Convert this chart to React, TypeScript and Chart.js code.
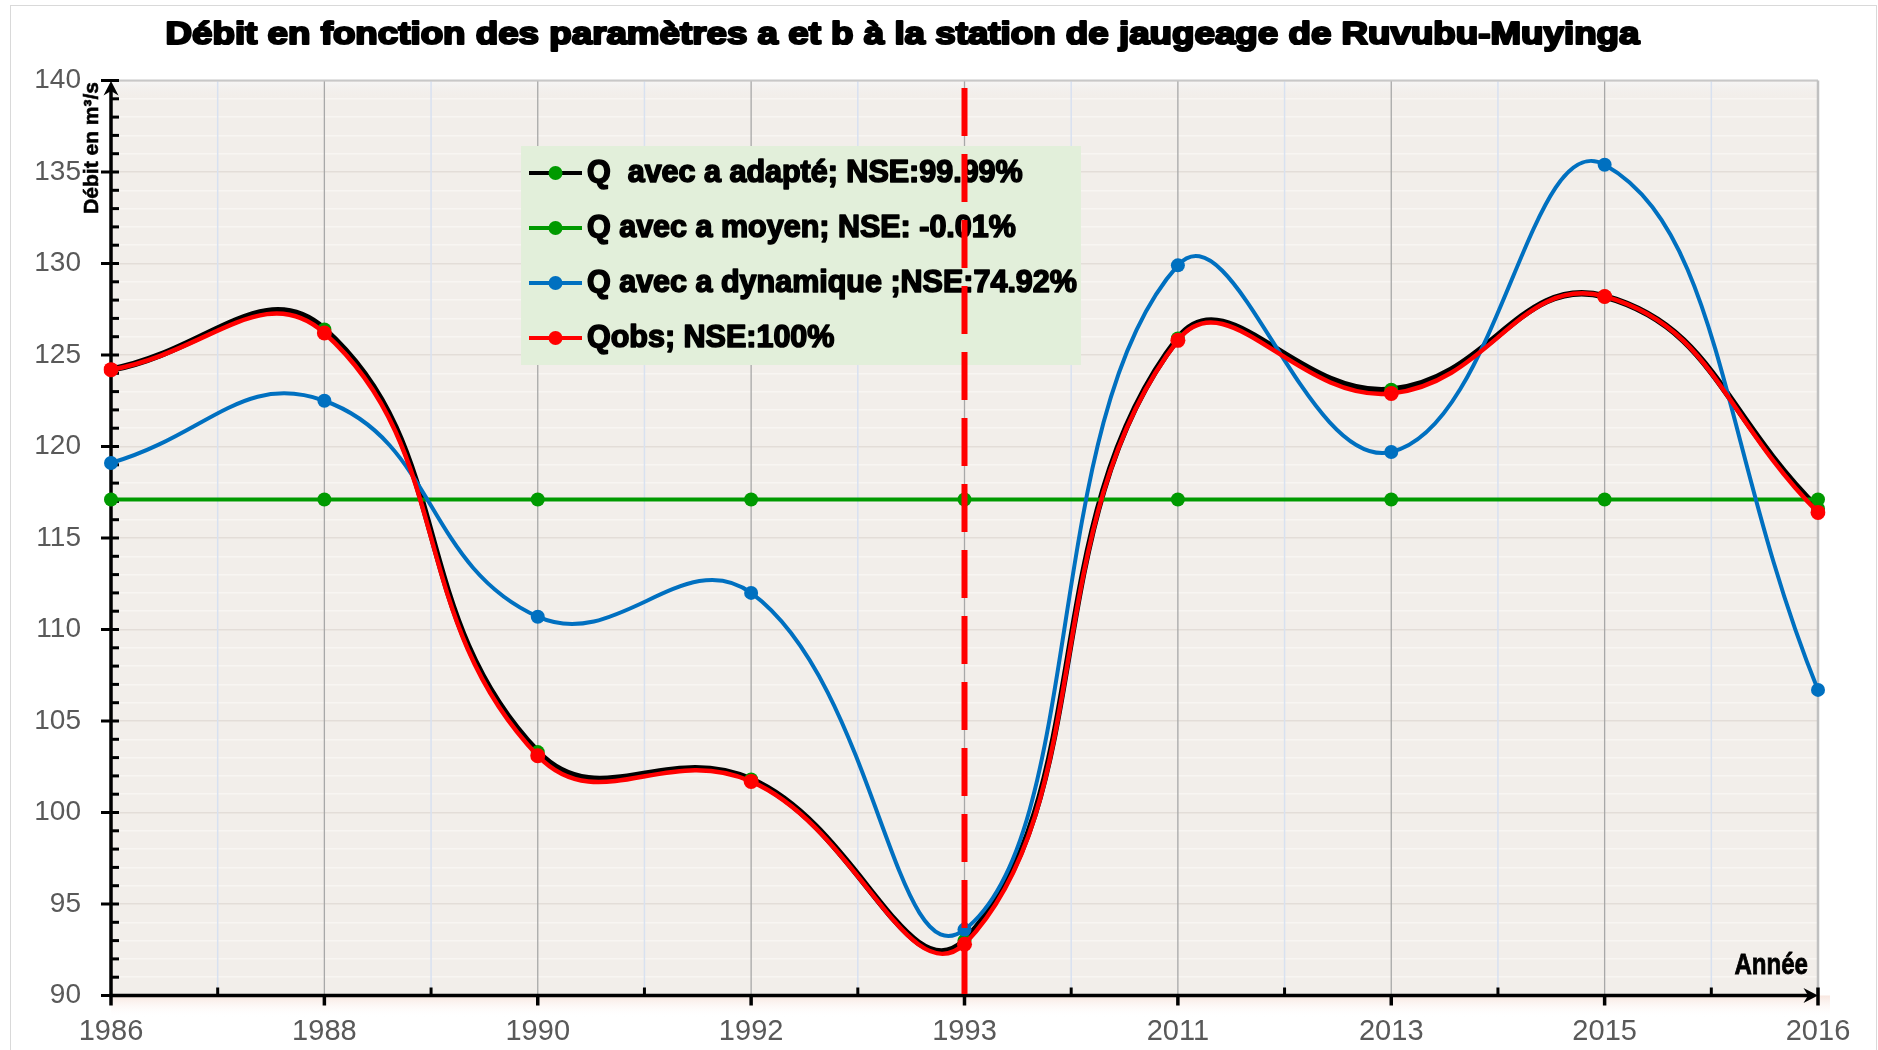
import React, { useEffect, useRef } from 'react';
import { Chart, registerables } from 'chart.js';

Chart.register(...registerables);

// ---------- data ----------
const categories = ['1986', '1988', '1990', '1992', '1993', '2011', '2013', '2015', '2016'];
const qAdapte = [124.2, 126.4, 103.3, 101.8, 93.0, 125.9, 123.1, 128.2, 116.6];
const qMoyen = [117.1, 117.1, 117.1, 117.1, 117.1, 117.1, 117.1, 117.1, 117.1];
const qDynamique = [119.1, 122.5, 110.7, 112.0, 93.6, 129.9, 119.7, 135.4, 106.7];
const qObs = [124.2, 126.2, 103.1, 101.7, 92.8, 125.8, 122.9, 128.2, 116.4];

const seriesLabels = [
  'Q  avec a adapté; NSE:99.99%',
  'Q avec a moyen; NSE: -0.01%',
  'Q avec a dynamique ;NSE:74.92%',
  'Qobs; NSE:100%',
];
const titleText = 'Débit en fonction des paramètres a et b à la station de jaugeage de Ruvubu-Muyinga';
const yAxisTitle = 'Débit en m³/s';
const xAxisTitle = 'Année';
const breakYear = '1993';
const yMin = 90;
const yMax = 140;
const yMajorStep = 5;

const GREEN = '#009A00';
const BLUE = '#0070C0';
const RED = '#FF0000';
const BLACK = '#000000';

const decor = {
  id: 'decor',
  beforeDraw(chart: any) {
    const { ctx, chartArea: a } = chart;
    ctx.save();
    ctx.fillStyle = '#ffffff';
    ctx.fillRect(0, 0, chart.width, chart.height);
    ctx.strokeStyle = '#D9D9D9';
    ctx.lineWidth = 1;
    ctx.strokeRect(10.5, 5.5, 1866, 1200);
    let g = ctx.createLinearGradient(0, a.bottom, 0, a.bottom + 22);
    g.addColorStop(0, 'rgba(245,220,210,0.7)');
    g.addColorStop(1, 'rgba(255,255,255,0)');
    ctx.fillStyle = g;
    ctx.fillRect(a.left, a.bottom, a.width + 12, 22);
    ctx.fillStyle = '#F2EEEA';
    ctx.fillRect(a.left, a.top, a.width, a.height);
    g = ctx.createLinearGradient(0, a.top, 0, a.top + 18);
    g.addColorStop(0, '#F6F6F6');
    g.addColorStop(1, 'rgba(242,238,234,0)');
    ctx.fillStyle = g;
    ctx.fillRect(a.left, a.top, a.width, 18);
    ctx.restore();
  },
  beforeDatasetsDraw(chart: any) {
    const { ctx, chartArea: a, scales } = chart;
    const xs = scales.x;
    const ys = scales.y;
    ctx.save();
    ctx.strokeStyle = '#D8E1F0';
    ctx.lineWidth = 1.5;
    for (let i = 0; i < categories.length - 1; i++) {
      const x = (xs.getPixelForValue(i) + xs.getPixelForValue(i + 1)) / 2;
      ctx.beginPath();
      ctx.moveTo(x, a.top);
      ctx.lineTo(x, a.bottom);
      ctx.stroke();
    }
    ctx.strokeStyle = '#A8A8A8';
    ctx.lineWidth = 1.3;
    for (let i = 1; i < categories.length - 1; i++) {
      const x = xs.getPixelForValue(i);
      ctx.beginPath();
      ctx.moveTo(x, a.top);
      ctx.lineTo(x, a.bottom);
      ctx.stroke();
    }
    ctx.strokeStyle = '#C8C8C8';
    ctx.lineWidth = 2;
    ctx.beginPath();
    ctx.moveTo(a.left, a.top);
    ctx.lineTo(a.right, a.top);
    ctx.stroke();
    ctx.strokeStyle = '#C0C0C0';
    ctx.lineWidth = 2.5;
    ctx.beginPath();
    ctx.moveTo(a.right, a.top);
    ctx.lineTo(a.right, a.bottom);
    ctx.stroke();

    ctx.strokeStyle = BLACK;
    ctx.fillStyle = BLACK;
    ctx.lineWidth = 3.5;
    ctx.lineCap = 'butt';
    ctx.beginPath();
    ctx.moveTo(a.left, a.bottom + 1.5);
    ctx.lineTo(a.left, a.top + 10);
    ctx.stroke();
    ctx.beginPath();
    ctx.moveTo(a.left - 1.5, a.bottom);
    ctx.lineTo(a.right - 10, a.bottom);
    ctx.stroke();
    ctx.beginPath();
    ctx.moveTo(a.left, a.top + 0.5);
    ctx.lineTo(a.left - 7.5, a.top + 15);
    ctx.lineTo(a.left, a.top + 10.5);
    ctx.lineTo(a.left + 7.5, a.top + 15);
    ctx.closePath();
    ctx.fill();
    ctx.beginPath();
    ctx.moveTo(a.right, a.bottom);
    ctx.lineTo(a.right - 14.5, a.bottom - 7.5);
    ctx.lineTo(a.right - 10, a.bottom);
    ctx.lineTo(a.right - 14.5, a.bottom + 7.5);
    ctx.closePath();
    ctx.fill();

    ctx.lineWidth = 3;
    for (let v = yMin; v <= yMax; v++) {
      const y = ys.getPixelForValue(v);
      ctx.beginPath();
      ctx.moveTo(v % yMajorStep === 0 ? a.left - 10 : a.left, y);
      ctx.lineTo(a.left + 8, y);
      ctx.stroke();
    }
    ctx.lineWidth = 3.5;
    for (let i = 0; i < categories.length; i++) {
      const x = xs.getPixelForValue(i);
      ctx.beginPath();
      ctx.moveTo(x, i === categories.length - 1 ? a.bottom - 8 : a.bottom);
      ctx.lineTo(x, a.bottom + 10);
      ctx.stroke();
    }
    ctx.lineWidth = 3;
    for (let i = 0; i < categories.length - 1; i++) {
      const x = (xs.getPixelForValue(i) + xs.getPixelForValue(i + 1)) / 2;
      ctx.beginPath();
      ctx.moveTo(x, a.bottom - 8);
      ctx.lineTo(x, a.bottom);
      ctx.stroke();
    }
    ctx.restore();
  },
  afterDatasetsDraw(chart: any) {
    const { ctx, chartArea: a, scales } = chart;
    const xs = scales.x;
    ctx.save();
    ctx.fillStyle = '#E2EFDA';
    ctx.fillRect(521, 146, 560, 219);
    const ds = chart.data.datasets;
    const rowY = [173, 228, 283, 338];
    ds.forEach((d: any, i: number) => {
      const y = rowY[i];
      ctx.strokeStyle = d.borderColor;
      ctx.lineWidth = 4;
      ctx.beginPath();
      ctx.moveTo(529, y);
      ctx.lineTo(582, y);
      ctx.stroke();
      ctx.fillStyle = d.pointBackgroundColor;
      ctx.beginPath();
      ctx.arc(555.5, y, 7, 0, Math.PI * 2);
      ctx.fill();
      ctx.font = 'bold 30.5px "Liberation Sans", Arial, sans-serif';
      ctx.textAlign = 'left';
      ctx.textBaseline = 'middle';
      ctx.fillStyle = BLACK;
      ctx.strokeStyle = BLACK;
      ctx.lineWidth = 1.6;
      ctx.lineJoin = 'round';
      ctx.fillText(d.label, 587, y + 1);
      ctx.strokeText(d.label, 587, y + 1);
    });
    const bx = xs.getPixelForValue(categories.indexOf(breakYear));
    ctx.strokeStyle = RED;
    ctx.lineWidth = 6;
    ctx.setLineDash([48, 18]);
    ctx.beginPath();
    ctx.moveTo(bx, a.top + 7.5);
    ctx.lineTo(bx, a.bottom + 3);
    ctx.stroke();
    ctx.setLineDash([]);
    ctx.restore();
  },
  afterDraw(chart: any) {
    const { ctx, chartArea: a } = chart;
    ctx.save();
    ctx.font = 'bold 31.5px "Liberation Sans", Arial, sans-serif';
    const tw = ctx.measureText(titleText).width;
    const sx = 1474 / tw;
    ctx.translate(902.5, 44);
    ctx.scale(sx, 1);
    ctx.textAlign = 'center';
    ctx.textBaseline = 'alphabetic';
    ctx.fillStyle = BLACK;
    ctx.strokeStyle = BLACK;
    ctx.lineWidth = 2.2;
    ctx.lineJoin = 'round';
    ctx.fillText(titleText, 0, 0);
    ctx.strokeText(titleText, 0, 0);
    ctx.restore();

    ctx.save();
    ctx.translate(a.left - 13, a.top + 1.5);
    ctx.rotate(-Math.PI / 2);
    ctx.font = 'bold 21px "Liberation Sans", Arial, sans-serif';
    ctx.textAlign = 'right';
    ctx.textBaseline = 'alphabetic';
    ctx.fillStyle = BLACK;
    ctx.strokeStyle = BLACK;
    ctx.lineWidth = 0.6;
    ctx.fillText(yAxisTitle, 0, 0);
    ctx.strokeText(yAxisTitle, 0, 0);
    ctx.restore();

    ctx.save();
    ctx.translate(a.right - 10, a.bottom - 21.5);
    ctx.scale(0.83, 1);
    ctx.font = 'bold 29px "Liberation Sans", Arial, sans-serif';
    ctx.textAlign = 'right';
    ctx.textBaseline = 'alphabetic';
    ctx.fillStyle = BLACK;
    ctx.strokeStyle = BLACK;
    ctx.lineWidth = 0.8;
    ctx.fillText(xAxisTitle, 0, 0);
    ctx.strokeText(xAxisTitle, 0, 0);
    ctx.restore();
  },
};

export default function App() {
  const ref = useRef<HTMLCanvasElement | null>(null);
  useEffect(() => {
    if (!ref.current) return;
    const mk = (label: string, data: number[], line: string, point: string, width: number, order: number, r: number) => ({
      label,
      data,
      borderColor: line,
      backgroundColor: point,
      pointBackgroundColor: point,
      pointBorderColor: point,
      pointBorderWidth: 0,
      pointRadius: r,
      pointHoverRadius: r,
      borderWidth: width,
      tension: 0.45,
      fill: false,
      order,
    });
    const chart = new Chart(ref.current, {
      type: 'line',
      data: {
        labels: categories,
        datasets: [
          mk(seriesLabels[0], qAdapte, BLACK, GREEN, 6.5, 4, 7),
          mk(seriesLabels[1], qMoyen, GREEN, GREEN, 4, 3, 7),
          mk(seriesLabels[2], qDynamique, BLUE, BLUE, 4, 2, 7),
          mk(seriesLabels[3], qObs, RED, RED, 4.5, 1, 7.5),
        ],
      },
      options: {
        responsive: false,
        animation: false,
        devicePixelRatio: 1,
        layout: { padding: { top: 80.5, right: 60, left: 0, bottom: 0 } },
        plugins: {
          legend: { display: false },
          title: { display: false },
          tooltip: { enabled: false },
        },
        events: [],
        scales: {
          x: {
            type: 'category',
            offset: false,
            grid: { display: false, drawTicks: false },
            border: { display: false },
            ticks: {
              color: '#595959',
              font: { family: '"Liberation Sans", Arial, sans-serif', size: 29 },
              padding: 18.6,
              maxRotation: 0,
              autoSkip: false,
            },
            afterFit: (s: any) => { s.height = 54.5; },
          },
          y: {
            min: yMin,
            max: yMax,
            ticks: {
              stepSize: 1,
              autoSkip: false,
              color: '#595959',
              font: { family: '"Liberation Sans", Arial, sans-serif', size: 28 },
              padding: 30,
              callback: (v: any) => (Number(v) % yMajorStep === 0 ? String(v) : ''),
            },
            grid: {
              color: (c: any) => (c.tick && c.tick.value % yMajorStep === 0 ? '#E3DDD8' : '#F8F5F2'),
              lineWidth: 1.5,
              drawTicks: false,
            },
            border: { display: false },
            afterFit: (s: any) => { s.width = 111; },
          },
        },
      },
      plugins: [decor],
    } as any);
    return () => chart.destroy();
  }, []);
  return (
    <div style={{ position: 'fixed', left: 0, top: 0, width: 1878, height: 1050, background: '#fff' }}>
      <canvas ref={ref} width={1878} height={1050} style={{ width: 1878, height: 1050, display: 'block' }} />
    </div>
  );
}
